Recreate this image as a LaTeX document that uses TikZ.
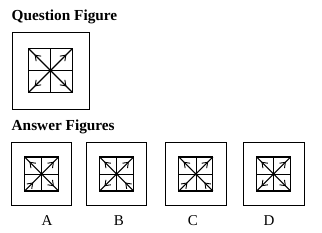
\documentclass[tikz,border=0pt]{standalone}
\usepackage{fontspec}
\setmainfont{Liberation Serif}
\usetikzlibrary{arrows.meta,decorations.markings}
\tikzset{
  outerbox/.style={draw, line width=0.9pt, inner sep=0pt, outer sep=0pt},
  innerbox/.style={draw, line width=1.1pt, inner sep=0pt, outer sep=0pt},
  crossline/.style={line width=0.7pt},
  diagline/.style={line width=1.1pt},
  heading/.style={font=\fontsize{15.3}{17}\selectfont\bfseries, anchor=base west, inner sep=0pt},
  letter/.style={font=\fontsize{15}{17}\selectfont, anchor=base, inner sep=0pt},
  tip/.tip={Straight Barb[length=4.8pt,width=7pt,line width=0.9pt]},
  outw/.style={postaction={decorate, decoration={markings,
     mark=at position 0.72 with {\arrow{tip}}}}},
  inw/.style={postaction={decorate, decoration={markings,
     mark=at position 0.5 with {\arrowreversed{tip}}}}}
}
\newcommand\figbox[6]{%
  \node[outerbox, minimum width=#4pt, minimum height=#5pt] (#1o) at (#2,#3) {};
  \node[innerbox, minimum width=#6pt, minimum height=#6pt] (#1i) at (#2,#3) {};
  \draw[crossline] (#1i.north) -- (#1i.south) (#1i.west) -- (#1i.east);
  \fill (#1i.center) circle (1.5);
}
% #2..#5: style outw (tip toward corner) or inw (tip toward centre)
\newcommand\allarrows[5]{%
  \draw[diagline, #2] (#1.center) -- (#1.north west);
  \draw[diagline, #3] (#1.center) -- (#1.north east);
  \draw[diagline, #4] (#1.center) -- (#1.south west);
  \draw[diagline, #5] (#1.center) -- (#1.south east);
}
\begin{document}
\begin{tikzpicture}[x=1pt,y=-1pt]
\useasboundingbox (0,0) rectangle (322,233);
\node[heading] (qt) at (11.5,20.5) {Question Figure};
\figbox{q}{50.5}{70.5}{77}{77}{44}
\allarrows{qi}{outw}{outw}{outw}{outw}

\node[heading] (at) at (11.5,130.5) {Answer Figures};

\figbox{a}{41.7}{174}{60}{63}{34}
\allarrows{ai}{outw}{outw}{inw}{outw}
\figbox{b}{116.7}{174}{60}{63}{34}
\allarrows{bi}{outw}{outw}{outw}{inw}
\figbox{c}{195.9}{174}{61}{63}{34}
\allarrows{ci}{outw}{outw}{inw}{inw}
\figbox{d}{273.7}{174}{61}{63}{34}
\allarrows{di}{outw}{outw}{outw}{outw}

\node[letter] (la) at (47,225) {A};
\node[letter] (lb) at (119,225) {B};
\node[letter] (lc) at (193,225) {C};
\node[letter] (ld) at (269,225) {D};
\end{tikzpicture}
\end{document}
